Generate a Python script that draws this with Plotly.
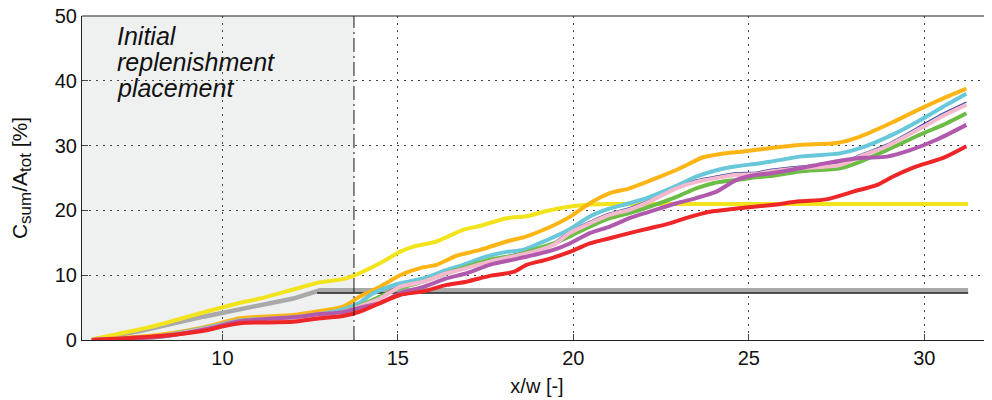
import plotly.graph_objects as go

# ---- data ----
yellow_x = [6.28, 7.94, 9.55, 10.4, 11.07, 12.02, 12.78, 13.44, 13.73, 14.49, 15.06, 15.44, 16.1, 16.86, 17.34, 18.1, 18.67, 19.24, 19.9, 20.5, 21.0, 31.25]
yellow_y = [0.1, 2.0, 4.4, 5.6, 6.4, 7.8, 8.9, 9.4, 9.9, 11.85, 13.6, 14.4, 15.2, 17.0, 17.6, 18.8, 19.1, 19.9, 20.6, 20.9, 21.0, 21.0]

orange_x = [6.28, 8.22, 9.55, 10.5, 12.02, 12.78, 13.44, 13.92, 14.49, 15.06, 15.63, 16.1, 16.67, 17.34, 18.1, 18.67, 19.24, 19.9, 20.47, 21.04, 21.6, 22.47, 23.04, 23.7, 24.18, 24.84, 25.6, 26.45, 27.5, 28.17, 29.1, 29.97, 30.54, 31.2]
orange_y = [0.0, 0.8, 2.05, 3.35, 3.86, 4.48, 5.14, 6.7, 8.2, 10.0, 11.1, 11.6, 13.0, 13.9, 15.2, 16.0, 17.2, 19.0, 21.1, 22.66, 23.4, 25.2, 26.5, 28.2, 28.7, 29.1, 29.6, 30.1, 30.4, 31.4, 33.6, 35.9, 37.3, 38.8]

cyan_x = [6.28, 8.22, 9.55, 10.5, 12.02, 12.78, 13.35, 13.92, 14.3, 14.97, 15.72, 16.39, 16.86, 17.53, 18.1, 18.57, 19.24, 19.9, 20.47, 21.04, 21.6, 22.18, 22.94, 23.5, 24.08, 24.65, 25.22, 25.6, 26.45, 27.6, 28.17, 29.1, 29.97, 30.54, 31.2]
cyan_y = [0.0, 0.6, 1.9, 3.0, 3.5, 4.0, 4.6, 5.8, 7.2, 8.6, 9.5, 10.8, 11.6, 12.9, 13.6, 13.9, 15.4, 17.1, 19.05, 20.3, 21.1, 22.1, 23.8, 25.2, 26.2, 26.8, 27.2, 27.5, 28.3, 28.8, 29.6, 31.7, 34.2, 36.0, 38.0]

pink_x = [6.28, 8.22, 9.55, 10.5, 12.02, 12.78, 13.44, 13.92, 14.49, 15.06, 15.72, 16.39, 16.96, 17.62, 18.29, 18.86, 19.43, 19.9, 20.47, 21.04, 21.6, 22.18, 22.94, 23.5, 24.08, 24.65, 25.22, 25.6, 26.45, 27.6, 28.17, 28.93, 29.97, 30.54, 31.2]
pink_y = [0.0, 0.5, 1.8, 2.9, 3.4, 3.9, 4.3, 5.2, 6.4, 8.2, 9.0, 10.3, 11.1, 12.1, 12.9, 13.6, 14.7, 16.5, 18.0, 19.3, 20.1, 21.4, 23.4, 24.4, 25.0, 25.5, 25.6, 26.0, 26.5, 27.0, 28.3, 29.9, 32.9, 34.6, 36.3]

blue_x = [6.28, 8.22, 9.55, 10.5, 12.02, 12.78, 13.44, 13.92, 14.49, 15.06, 15.72, 16.39, 16.96, 17.62, 18.29, 18.86, 19.43, 19.9, 20.47, 21.04, 21.6, 22.18, 22.94, 23.5, 24.08, 24.65, 25.22, 25.6, 26.45, 27.6, 28.17, 28.93, 29.97, 30.54, 31.2]
blue_y = [0.0, 0.6, 1.9, 3.0, 3.6, 4.1, 4.5, 5.4, 6.7, 8.5, 9.3, 10.6, 11.4, 12.4, 13.2, 13.9, 15.0, 16.8, 18.3, 19.6, 20.4, 21.7, 23.7, 24.7, 25.3, 25.8, 25.9, 26.3, 26.8, 27.3, 28.6, 30.2, 33.3, 35.0, 36.7]

green_x = [6.28, 8.22, 9.55, 10.5, 12.02, 12.78, 13.44, 13.92, 14.49, 15.06, 15.72, 16.39, 16.96, 17.62, 18.29, 18.86, 19.43, 19.9, 20.47, 21.04, 21.6, 22.18, 22.94, 23.5, 23.99, 24.65, 25.22, 25.6, 26.45, 27.6, 28.17, 28.93, 29.97, 30.54, 31.2]
green_y = [0.0, 0.5, 1.8, 2.9, 3.4, 3.9, 4.3, 5.3, 6.7, 8.0, 9.0, 10.3, 11.3, 12.4, 13.0, 13.9, 14.9, 16.0, 17.5, 18.8, 19.6, 20.6, 22.1, 23.4, 24.2, 24.7, 25.1, 25.3, 26.0, 26.5, 27.5, 29.3, 31.9, 33.2, 35.0]

purple_x = [6.28, 8.22, 9.55, 10.5, 12.02, 12.78, 13.44, 13.92, 14.49, 15.06, 15.72, 16.39, 16.96, 17.62, 18.29, 18.86, 19.43, 19.9, 20.47, 21.04, 21.6, 22.18, 22.94, 23.5, 24.08, 24.65, 25.22, 25.6, 26.45, 27.2, 28.17, 28.93, 29.6, 30.35, 31.2]
purple_y = [0.0, 0.5, 1.7, 2.9, 3.5, 4.0, 4.3, 5.0, 5.7, 7.2, 8.2, 9.5, 10.3, 11.6, 12.4, 13.1, 13.9, 14.9, 16.5, 17.5, 18.8, 19.8, 21.1, 21.9, 22.9, 24.7, 25.5, 25.7, 26.5, 27.3, 28.1, 28.3, 29.3, 30.9, 33.2]

red_x = [6.28, 8.22, 9.55, 9.93, 10.5, 12.02, 12.78, 13.44, 13.92, 14.49, 15.06, 15.72, 16.39, 16.96, 17.62, 18.29, 18.67, 19.24, 19.9, 20.47, 21.04, 21.6, 22.18, 22.75, 23.32, 23.89, 24.65, 25.6, 26.45, 27.2, 27.98, 28.64, 29.1, 29.78, 30.54, 31.2]
red_y = [0.0, 0.6, 1.5, 2.0, 2.6, 2.8, 3.35, 3.7, 4.4, 5.7, 6.95, 7.5, 8.5, 9.0, 9.9, 10.5, 11.6, 12.4, 13.6, 14.9, 15.7, 16.5, 17.25, 18.0, 19.0, 19.8, 20.3, 20.8, 21.4, 21.7, 22.9, 23.9, 25.2, 26.8, 28.1, 29.9]

gray_x = [6.28, 7.75, 9.46, 11.07, 12.02, 12.78, 31.25]
gray_y = [0.0, 1.5, 3.6, 5.4, 6.4, 7.67, 7.67]

black_x = [12.7, 31.25]
black_y = [7.26, 7.26]

placement_end = 13.75
x_ticks = [10, 15, 20, 25, 30]
y_ticks = [0, 10, 20, 30, 40, 50]
label_lines = ["Initial", "replenishment", "placement"]
label_y = [46.9, 42.9, 38.9]

FONT = "Liberation Sans, Arial, sans-serif"

fig = go.Figure()

def add(x, y, color, width, shape="spline"):
    fig.add_trace(go.Scatter(x=x, y=y, mode="lines",
                             line=dict(color=color, width=width, shape=shape, smoothing=0.7),
                             showlegend=False, hoverinfo="skip"))

add(gray_x, gray_y, "#a9a9a9", 4.5, "linear")
add(black_x, black_y, "#1a1a1a", 1.5, "linear")
add(yellow_x, yellow_y, "#f2e41c", 4)
add(blue_x, blue_y, "#3b4ea3", 1.5)
add(orange_x, orange_y, "#fdb515", 4)
add(cyan_x, cyan_y, "#68c8da", 4)
add(green_x, green_y, "#6cbd45", 4)
add(pink_x, pink_y, "#f5b8cd", 4)
add(purple_x, purple_y, "#b15aad", 4)
add(red_x, red_y, "#ee2628", 4)

fig.add_shape(type="rect", xref="x", yref="paper", x0=6, x1=placement_end, y0=0, y1=1,
              fillcolor="#eff0f0", line_width=0, layer="below")
fig.add_shape(type="line", xref="x", yref="paper", x0=placement_end, x1=placement_end, y0=0, y1=1,
              line=dict(color="#111111", width=1, dash="14px,4px,2px,4px"))
fig.add_shape(type="line", xref="paper", yref="paper", x0=0, x1=1, y0=1, y1=1,
              line=dict(color="#222222", width=1.2))

for txt, yy in zip(label_lines, label_y):
    fig.add_annotation(x=6.95, y=yy, xref="x", yref="y", xanchor="left", yanchor="middle",
                       text="<i>" + txt + "</i>", showarrow=False,
                       font=dict(family=FONT, size=25, color="#111111"))

axis_common = dict(showline=True, linecolor="#222222", linewidth=1.2,
                   ticks="inside", ticklen=6, tickcolor="#444444",
                   showgrid=True, gridcolor="#444444", gridwidth=1, griddash="2px,5px",
                   zeroline=False, automargin=False, ticklabeloverflow="allow",
                   tickfont=dict(family=FONT, size=20, color="#111111"))

fig.update_xaxes(range=[6, 31.93], tickvals=x_ticks,
                 title=dict(text="x/w [-]", font=dict(family=FONT, size=20, color="#111111"), standoff=10),
                 **axis_common)
fig.update_yaxes(range=[0, 50], tickvals=y_ticks,
                 title=dict(text="C<sub><span style='font-size:17px'>sum</span></sub>/A<sub><span style='font-size:17px'>tot</span></sub> [%]",
                            font=dict(family=FONT, size=21, color="#111111"), standoff=21),
                 **axis_common)

# the page body adds an 8px margin, so the figure is 8px smaller and margins shifted
fig.update_layout(width=984, height=392, margin=dict(l=74, r=0, t=8, b=60),
                  plot_bgcolor="white", paper_bgcolor="white",
                  font=dict(family=FONT))

fig.write_html("out.html")
